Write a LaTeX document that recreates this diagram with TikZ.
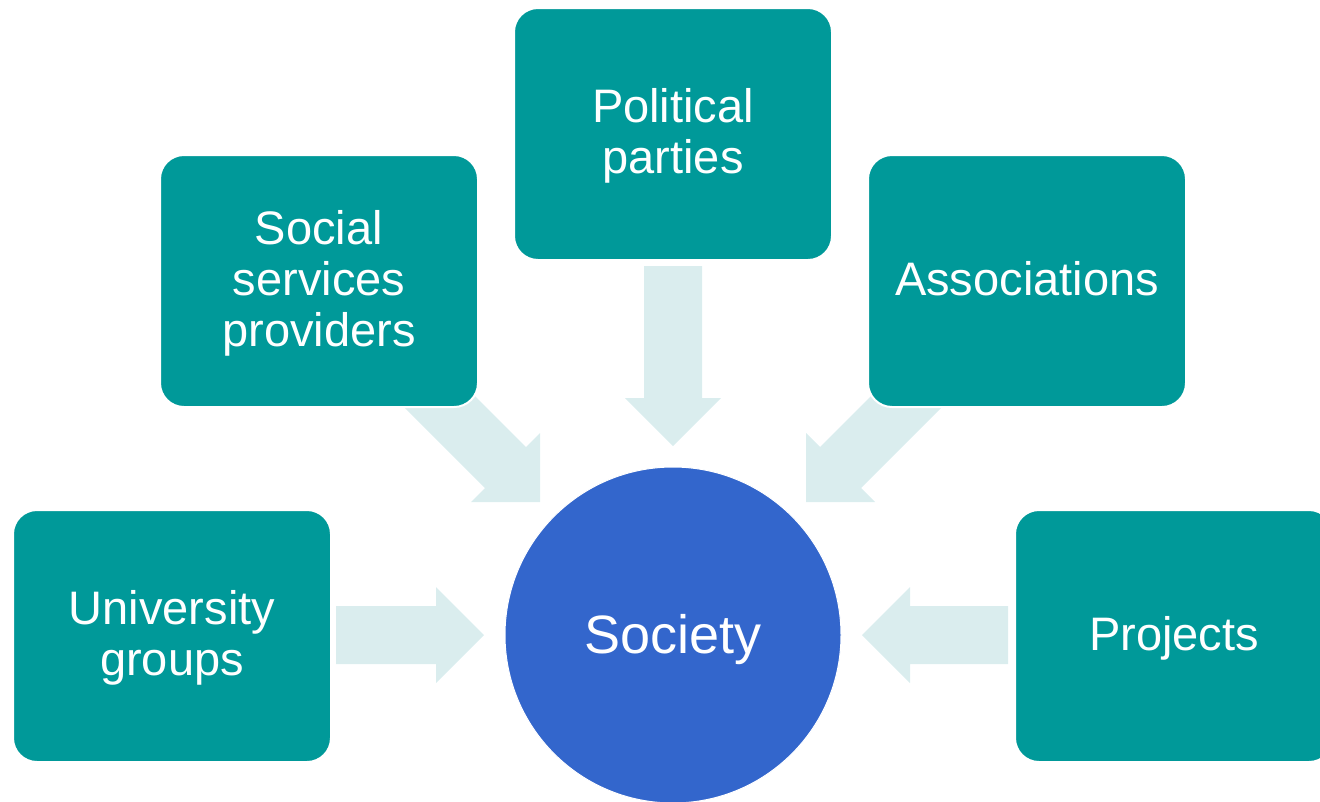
\documentclass[tikz,border=0pt]{standalone}
\usepackage{fontspec}
\setmainfont{Liberation Sans}
\definecolor{teal1}{HTML}{009999}
\definecolor{arrowc}{HTML}{DAEDEE}
\definecolor{blue1}{HTML}{3366CC}
\newcommand{\boxlbl}[2]{\raisebox{#1}[0pt][0pt]{\begin{tabular}[b]{@{}c@{}}#2\end{tabular}}}
\begin{document}
\begin{tikzpicture}[x=1pt,y=-1pt,
  box/.style={rectangle, rounded corners=24pt, fill=teal1, draw=white, line width=2pt,
    minimum width=318pt, minimum height=252pt, text=white,
    font=\fontsize{47}{51}\selectfont, inner sep=0pt},
  blockarrow/.style={fill=arrowc, draw=none}]
\useasboundingbox (0,0) rectangle (1320,801);
\clip (0,0) rectangle (1320,801);
% block arrows
\fill[blockarrow] (336,606) -- (436,606) -- (436,587) -- (484,635) -- (436,683) -- (436,664) -- (336,664) -- cycle;
\fill[blockarrow] (1008,606) -- (910,606) -- (910,587) -- (862,635) -- (910,683) -- (910,664) -- (1008,664) -- cycle;
\fill[blockarrow] (644,266) -- (702,266) -- (702,398) -- (721,398) -- (673,446) -- (625,398) -- (644,398) -- cycle;
\fill[blockarrow] (393,396) -- (485,488) -- (471,502) -- (540,502) -- (540,433) -- (526,447) -- (434,355) -- cycle;
\fill[blockarrow] (953,396) -- (861,488) -- (875,502) -- (806,502) -- (806,433) -- (820,447) -- (912,355) -- cycle;
% boxes
\node[box] (pp) at (673,134) {\boxlbl{-39.5pt}{Political\\parties}};
\node[box] (ssp) at (319,281) {\boxlbl{-65pt}{Social\\services\\providers}};
\node[box] (assoc) at (1027,281) {\boxlbl{-14pt}{Associations}};
\node[box] (ug) at (172,636) {\boxlbl{-39.5pt}{University\\groups}};
\node[box] (proj) at (1174,636) {\boxlbl{-14pt}{Projects}};
\node[circle, fill=blue1, draw=white, line width=1pt, minimum size=336pt, inner sep=0pt,
  text=white, font=\fontsize{54}{58}\selectfont] (soc) at (673,635) {\raisebox{-18pt}[0pt][0pt]{Society}};
\end{tikzpicture}
\end{document}
